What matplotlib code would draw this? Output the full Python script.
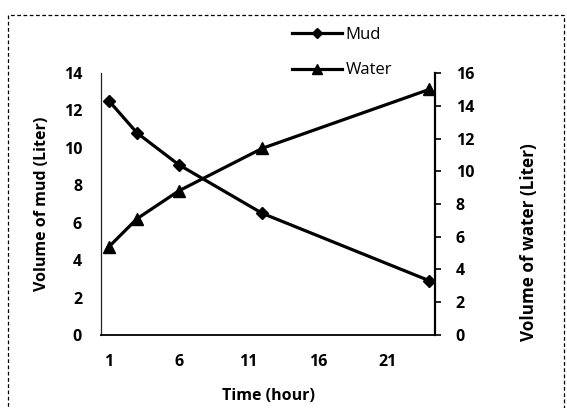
import matplotlib.pyplot as plt
from matplotlib.lines import Line2D
from matplotlib.patches import Rectangle

# data
time_h = [1, 3, 6, 12, 24]
mud = [12.5, 10.8, 9.1, 6.5, 2.9]
water = [5.4, 7.1, 8.8, 11.4, 15.0]
x_ticks = [1, 6, 11, 16, 21]
mud_ticks = [0, 2, 4, 6, 8, 10, 12, 14]
water_ticks = [0, 2, 4, 6, 8, 10, 12, 14, 16]

plt.rcParams['font.family'] = ['Open Sans', 'DejaVu Sans']

fig = plt.figure(figsize=(5.67, 4.08), dpi=100)
ax = fig.add_axes([0.179, 0.179, 0.588, 0.642])
ax2 = ax.twinx()

# mud on left axis, water on right axis
ax.plot(time_h, mud, color='black', lw=2.3, marker='D', markersize=6, zorder=3)
ax2.plot(time_h, water, color='black', lw=2.3, marker='^', markersize=8, zorder=3)

ax.set_xlim(0.45, 24.4)
ax.set_ylim(0, 14)
ax2.set_ylim(0, 16)
ax.set_xticks(x_ticks)
ax.set_yticks(mud_ticks)
ax2.set_yticks(water_ticks)

for a in (ax, ax2):
    a.spines['top'].set_visible(False)
ax.spines['right'].set_visible(False)
ax.spines['left'].set_linewidth(0.9)
ax.spines['left'].set_color('#222222')
ax.spines['bottom'].set_linewidth(1.3)
ax2.spines['left'].set_visible(False)
ax2.spines['bottom'].set_visible(False)
ax2.spines['right'].set_linewidth(1.6)

ax.tick_params(axis='x', length=0, pad=14, labelsize=11.5)
ax.tick_params(axis='y', length=0, pad=14, labelsize=11.5)
ax2.tick_params(axis='y', direction='out', length=4, width=1.2, pad=11, labelsize=11.5)
for lab in ax.get_xticklabels() + ax.get_yticklabels() + ax2.get_yticklabels():
    lab.set_fontweight('bold')

ax.set_xlabel('Time (hour)', fontsize=11.5, fontweight='bold', labelpad=13)
ax.set_ylabel('Volume of mud (Liter)', fontsize=11.5, fontweight='bold', labelpad=10)
ax2.set_ylabel('Volume of water (Liter)', fontsize=12.3, fontweight='bold')
ax2.yaxis.set_label_coords(1.255, 0.355)

handles = [
    Line2D([0], [0], color='black', lw=2.3, marker='D', markersize=5, label='Mud'),
    Line2D([0], [0], color='black', lw=2.3, marker='^', markersize=7, label='Water'),
]
fig.legend(handles=handles, loc='upper left', bbox_to_anchor=(0.495, 0.962),
           frameon=False, fontsize=12, handlelength=3.0, handletextpad=0.2,
           labelspacing=1.15, borderpad=0.2)

# dashed border around the chart area
fig.patches.append(Rectangle((8 / 567, -0.01), 556 / 567, 1 - 15 / 408 + 0.01,
                             transform=fig.transFigure, fill=False,
                             edgecolor='black', lw=0.9, linestyle=(0, (3, 2))))

fig.savefig('out.png', dpi=100)
